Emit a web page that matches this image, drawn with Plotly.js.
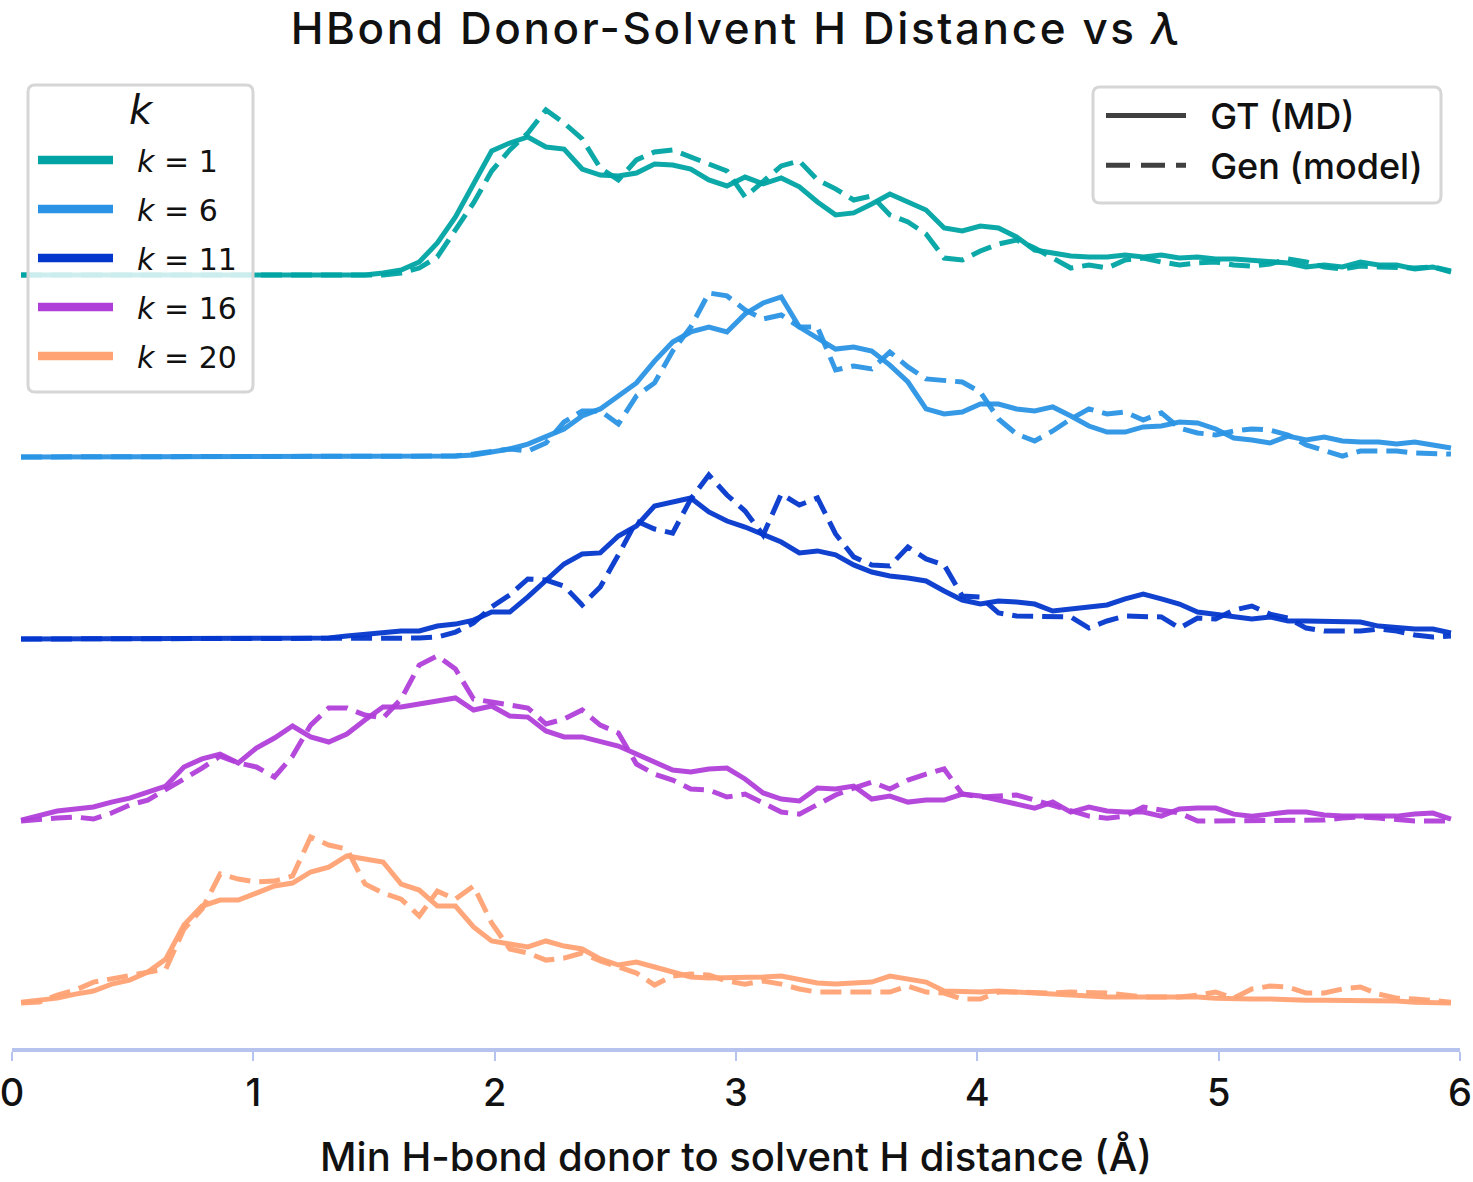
<!DOCTYPE html>
<html>
<head>
<meta charset="utf-8">
<script src="https://cdn.plot.ly/plotly-3.0.1.min.js"></script>
<style>
  html, body { margin: 0; padding: 0; background: #ffffff; }
  #chart { width: 1473px; height: 1182px; }
  #chart .gtitle { letter-spacing: 2.6px; }
</style>
</head>
<body>
<div id="chart"></div>
<script>
// Histogram bin centres (Å), 0.075 Å bins over 0–6 Å
const distance = [
  0.0375,0.1125,0.1875,0.2625,0.3375,0.4125,0.4875,0.5625,0.6375,0.7125,
  0.7875,0.8625,0.9375,1.0125,1.0875,1.1625,1.2375,1.3125,1.3875,1.4625,
  1.5375,1.6125,1.6875,1.7625,1.8375,1.9125,1.9875,2.0625,2.1375,2.2125,
  2.2875,2.3625,2.4375,2.5125,2.5875,2.6625,2.7375,2.8125,2.8875,2.9625,
  3.0375,3.1125,3.1875,3.2625,3.3375,3.4125,3.4875,3.5625,3.6375,3.7125,
  3.7875,3.8625,3.9375,4.0125,4.0875,4.1625,4.2375,4.3125,4.3875,4.4625,
  4.5375,4.6125,4.6875,4.7625,4.8375,4.9125,4.9875,5.0625,5.1375,5.2125,
  5.2875,5.3625,5.4375,5.5125,5.5875,5.6625,5.7375,5.8125,5.8875,5.9625
];

// Densities (1/Å): ground truth (MD) and generated (model), per k
const gtK1 = [
  0,0,0,0,0,0,0,0,0,0,
  0,0,0,0,0,0,0,0,0,0,
  0.011,0.027,0.071,0.176,0.319,0.505,0.681,0.725,0.758,0.703,
  0.692,0.582,0.549,0.544,0.560,0.610,0.604,0.582,0.522,0.489,
  0.538,0.500,0.533,0.484,0.401,0.330,0.341,0.390,0.445,0.401,
  0.357,0.258,0.242,0.269,0.258,0.209,0.137,0.121,0.104,0.099,
  0.099,0.110,0.099,0.110,0.093,0.099,0.088,0.088,0.082,0.071,
  0.066,0.044,0.055,0.044,0.071,0.055,0.055,0.033,0.044,0.016
];
const genK1 = [
  0,0,0,0,0,0,0,0,0,0,
  0,0,0,0,0,0,0,0,0,0,
  0,0.011,0.038,0.099,0.247,0.396,0.571,0.687,0.780,0.907,
  0.835,0.747,0.588,0.522,0.632,0.676,0.687,0.648,0.615,0.571,
  0.429,0.511,0.599,0.626,0.522,0.473,0.412,0.434,0.330,0.291,
  0.225,0.093,0.082,0.132,0.170,0.192,0.148,0.093,0.038,0.055,
  0.038,0.082,0.093,0.071,0.055,0.066,0.071,0.055,0.049,0.060,
  0.088,0.071,0.044,0.033,0.049,0.044,0.038,0.038,0.044,0.022
];
const gtK6 = [
  0,0,0,0,0,0,0,0,0,0,
  0,0,0,0,0,0,0,0,0,0,
  0,0,0,0,0.005,0.011,0.027,0.044,0.071,0.110,
  0.154,0.225,0.264,0.335,0.407,0.527,0.632,0.687,0.714,0.687,
  0.786,0.846,0.879,0.714,0.654,0.593,0.604,0.582,0.505,0.412,
  0.264,0.236,0.247,0.291,0.291,0.264,0.253,0.275,0.225,0.170,
  0.137,0.137,0.165,0.170,0.192,0.187,0.154,0.104,0.093,0.077,
  0.115,0.093,0.110,0.088,0.082,0.082,0.071,0.082,0.066,0.049
];
const genK6 = [
  0,0,0,0,0,0,0,0,0,0,
  0,0,0,0,0,0,0,0,0,0,
  0,0,0,0,0.005,0.016,0.033,0.044,0.033,0.077,
  0.192,0.253,0.253,0.181,0.335,0.407,0.582,0.714,0.901,0.885,
  0.808,0.758,0.780,0.714,0.714,0.478,0.500,0.484,0.577,0.495,
  0.429,0.418,0.412,0.357,0.209,0.126,0.088,0.143,0.209,0.264,
  0.236,0.247,0.203,0.242,0.159,0.132,0.121,0.143,0.154,0.148,
  0.121,0.066,0.033,0.005,0.033,0.033,0.033,0.022,0.016,0.016
];
const gtK11 = [
  0,0,0,0,0,0,0,0,0,0,
  0,0,0,0,0,0,0,0.005,0.016,0.027,
  0.033,0.044,0.044,0.071,0.082,0.104,0.148,0.148,0.231,0.319,
  0.412,0.467,0.473,0.566,0.621,0.731,0.753,0.775,0.698,0.648,
  0.615,0.571,0.533,0.473,0.484,0.462,0.407,0.368,0.346,0.335,
  0.319,0.264,0.214,0.192,0.209,0.203,0.192,0.154,0.165,0.170,
  0.187,0.220,0.247,0.220,0.192,0.148,0.137,0.126,0.110,0.121,
  0.099,0.099,0.099,0.099,0.093,0.071,0.060,0.055,0.055,0.033
];
const genK11 = [
  0,0,0,0,0,0,0,0,0,0,
  0,0,0,0,0,0,0,0,0,0,
  0.005,0.005,0.005,0.011,0.038,0.088,0.176,0.242,0.330,0.324,
  0.291,0.187,0.286,0.462,0.648,0.604,0.582,0.769,0.901,0.791,
  0.703,0.571,0.797,0.736,0.775,0.577,0.451,0.407,0.401,0.505,
  0.440,0.407,0.236,0.231,0.143,0.126,0.126,0.126,0.121,0.060,
  0.099,0.126,0.126,0.121,0.060,0.115,0.110,0.159,0.181,0.137,
  0.115,0.060,0.044,0.044,0.044,0.055,0.044,0.022,0.011,0.016
];
const gtK16 = [
  0.005,0.027,0.055,0.066,0.077,0.104,0.126,0.159,0.192,0.297,
  0.341,0.368,0.319,0.401,0.456,0.522,0.462,0.434,0.478,0.555,
  0.626,0.626,0.643,0.654,0.676,0.610,0.632,0.577,0.571,0.495,
  0.462,0.462,0.434,0.412,0.368,0.324,0.280,0.269,0.286,0.291,
  0.231,0.154,0.121,0.110,0.181,0.176,0.192,0.121,0.137,0.104,
  0.115,0.115,0.148,0.137,0.115,0.099,0.071,0.104,0.049,0.077,
  0.055,0.049,0.049,0.027,0.066,0.071,0.071,0.038,0.027,0.038,
  0.049,0.049,0.033,0.027,0.027,0.027,0.027,0.038,0.044,0.011
];
const genK16 = [
  0,0.011,0.016,0.022,0.011,0.044,0.088,0.115,0.170,0.231,
  0.291,0.357,0.319,0.297,0.242,0.357,0.527,0.621,0.621,0.582,
  0.566,0.670,0.857,0.907,0.835,0.670,0.654,0.637,0.621,0.533,
  0.560,0.610,0.527,0.484,0.313,0.258,0.225,0.176,0.170,0.132,
  0.148,0.099,0.049,0.038,0.088,0.143,0.181,0.214,0.176,0.225,
  0.258,0.286,0.148,0.132,0.137,0.143,0.115,0.088,0.055,0.027,
  0.016,0.027,0.077,0.060,0.044,0,0,0,0,0,
  0,0,0.005,0.016,0.022,0.016,0.005,0,0,0
];
const gtK20 = [
  0.005,0.016,0.027,0.049,0.066,0.104,0.126,0.170,0.242,0.429,
  0.533,0.566,0.566,0.604,0.643,0.659,0.720,0.747,0.808,0.791,
  0.775,0.654,0.621,0.533,0.533,0.418,0.341,0.324,0.308,0.341,
  0.313,0.297,0.242,0.209,0.225,0.198,0.170,0.143,0.137,0.137,
  0.137,0.143,0.148,0.132,0.110,0.104,0.110,0.115,0.148,0.132,
  0.115,0.066,0.060,0.060,0.066,0.060,0.055,0.044,0.044,0.038,
  0.033,0.033,0.038,0.038,0.038,0.033,0.027,0.022,0.022,0.022,
  0.016,0.016,0.016,0.016,0.016,0.016,0.011,0.005,0.005,0
];
const genK20 = [
  0,0.005,0.044,0.071,0.115,0.132,0.154,0.165,0.187,0.407,
  0.516,0.709,0.681,0.665,0.670,0.698,0.912,0.868,0.846,0.654,
  0.604,0.571,0.478,0.615,0.571,0.643,0.440,0.297,0.275,0.236,
  0.247,0.275,0.231,0.198,0.165,0.099,0.148,0.159,0.154,0.121,
  0.104,0.121,0.104,0.077,0.060,0.060,0.060,0.060,0.060,0.093,
  0.060,0.055,0.022,0.022,0.060,0.060,0.055,0.055,0.060,0.060,
  0.055,0.044,0.033,0.033,0.033,0.044,0.060,0.027,0.077,0.093,
  0.088,0.055,0.055,0.077,0.088,0.049,0.027,0.022,0.011,0.005
];

const kLabels = ['1', '6', '11', '16', '20'];
const kLegendTitle = '<i>k</i>';
const sourceLabels = ['GT (MD)', 'Gen (model)'];
const titleText = 'HBond Donor-Solvent H Distance vs <i>λ</i>';
const xTitleText = 'Min H-bond donor to solvent H distance (Å)';
const xTicks = [0, 1, 2, 3, 4, 5, 6];

// Styling for each ridge: colour and vertical offset (one unit per ridge)
const ridgeStyle = [
  { gt: gtK1,  gen: genK1,  color: '#00a3a3', offset: 4 },
  { gt: gtK6,  gen: genK6,  color: '#2a93e5', offset: 3 },
  { gt: gtK11, gen: genK11, color: '#0437cc', offset: 2 },
  { gt: gtK16, gen: genK16, color: '#b03fd9', offset: 1 },
  { gt: gtK20, gen: genK20, color: '#ffa274', offset: 0 }
];

const LINE_W = 5;
const DASH = '21px,9px';
const traces = [];

ridgeStyle.forEach((r) => {
  traces.push({
    x: distance, y: r.gt.map(v => v + r.offset),
    type: 'scatter', mode: 'lines', showlegend: false, hoverinfo: 'skip',
    opacity: 0.95,
    line: { color: r.color, width: LINE_W, shape: 'linear' }
  });
  traces.push({
    x: distance, y: r.gen.map(v => v + r.offset),
    type: 'scatter', mode: 'lines', showlegend: false, hoverinfo: 'skip',
    opacity: 0.95,
    line: { color: r.color, width: LINE_W, dash: DASH, shape: 'linear' }
  });
});

// Legend entries: colour key for k
ridgeStyle.forEach((r, i) => {
  traces.push({
    x: [null], y: [null], type: 'scatter', mode: 'lines',
    name: '\u00a0\u00a0<i>k</i> = ' + kLabels[i],
    legend: 'legend', legendgroup: 'k' + i, showlegend: true,
    line: { color: r.color, width: 8.5 }
  });
});
// Legend entries: line style key
traces.push({
  x: [null], y: [null], type: 'scatter', mode: 'lines',
  name: '\u00a0\u00a0' + sourceLabels[0], legend: 'legend2', legendgroup: 's0', showlegend: true,
  line: { color: '#404040', width: 5 }
});
traces.push({
  x: [null], y: [null], type: 'scatter', mode: 'lines',
  name: '\u00a0\u00a0' + sourceLabels[1], legend: 'legend2', legendgroup: 's1', showlegend: true,
  line: { color: '#404040', width: 5, dash: '24px,11px' }
});

// Plot-area geometry (px) used to place the rounded legend frames
const W = 1473, H = 1182;
const M = { l: 12, r: 13, t: 60, b: 134 };
const PW = W - M.l - M.r, PH = H - M.t - M.b;
function px2paperX(px) { return (px - M.l) / PW; }
function px2paperY(py) { return (H - M.b - py) / PH; }
function roundedBox(x0, y0, x1, y1, rad) {
  const a = px2paperX(x0), b = px2paperX(x1);
  const top = px2paperY(y0), bot = px2paperY(y1);
  const rx = rad / PW, ry = rad / PH;
  return `M${a + rx},${top} L${b - rx},${top} Q${b},${top} ${b},${top - ry} ` +
         `L${b},${bot + ry} Q${b},${bot} ${b - rx},${bot} ` +
         `L${a + rx},${bot} Q${a},${bot} ${a},${bot + ry} ` +
         `L${a},${top - ry} Q${a},${top} ${a + rx},${top} Z`;
}

const frameStyle = {
  type: 'path', xref: 'paper', yref: 'paper', layer: 'above',
  fillcolor: 'rgba(255,255,255,0.8)',
  line: { color: '#d6d6d6', width: 3 }
};

const baseFont = 'Inter, "Noto Sans", sans-serif';
const mathFont = '"DejaVu Sans", sans-serif';

const layout = {
  width: W, height: H,
  margin: M,
  paper_bgcolor: '#ffffff', plot_bgcolor: '#ffffff',
  font: { family: baseFont, color: '#111111', size: 32 },
  title: {
    text: titleText,
    font: { family: baseFont, size: 44, weight: 500, color: '#111111' },
    x: 0.5, xref: 'container', xanchor: 'center',
    y: (H - 29) / H, yref: 'container', yanchor: 'middle'
  },
  xaxis: {
    range: [0, 6],
    tickmode: 'array', tickvals: xTicks, ticktext: xTicks.map(String),
    ticklabeloverflow: 'allow',
    showline: true, linecolor: '#b5c3ee', linewidth: 3.5,
    ticks: 'outside', ticklen: 9, tickwidth: 2, tickcolor: '#b5c3ee',
    showgrid: false, zeroline: false,
    tickfont: { family: baseFont, size: 38, weight: 500, color: '#111111' },
    title: { text: xTitleText, font: { family: baseFont, size: 40, weight: 500, color: '#111111' }, standoff: 30 }
  },
  yaxis: {
    range: [-0.247, 5.181],
    visible: false, showgrid: false, zeroline: false, fixedrange: true
  },
  legend: {
    x: px2paperX(33), xanchor: 'left',
    y: px2paperY(134), yanchor: 'top',
    bgcolor: 'rgba(0,0,0,0)', borderwidth: 0,
    itemwidth: 75, traceorder: 'grouped', tracegroupgap: 7,
    font: { family: mathFont, size: 30, color: '#111111' }
  },
  legend2: {
    x: px2paperX(1101), xanchor: 'left',
    y: px2paperY(85.5), yanchor: 'top',
    bgcolor: 'rgba(0,0,0,0)', borderwidth: 0,
    itemwidth: 80, traceorder: 'grouped', tracegroupgap: 0,
    font: { family: baseFont, size: 36, weight: 500, color: '#111111' }
  },
  annotations: [
    {
      text: kLegendTitle, showarrow: false,
      xref: 'paper', yref: 'paper',
      x: px2paperX(141), y: px2paperY(110), xanchor: 'center', yanchor: 'middle',
      font: { family: mathFont, size: 40, color: '#111111' }
    }
  ],
  shapes: [
    Object.assign({ path: roundedBox(28, 85, 253, 392, 7) }, frameStyle),
    Object.assign({ path: roundedBox(1093, 87, 1441, 203, 7) }, frameStyle)
  ],
  showlegend: true
};

Plotly.newPlot('chart', traces, layout, { displayModeBar: false, staticPlot: true });
</script>
</body>
</html>
